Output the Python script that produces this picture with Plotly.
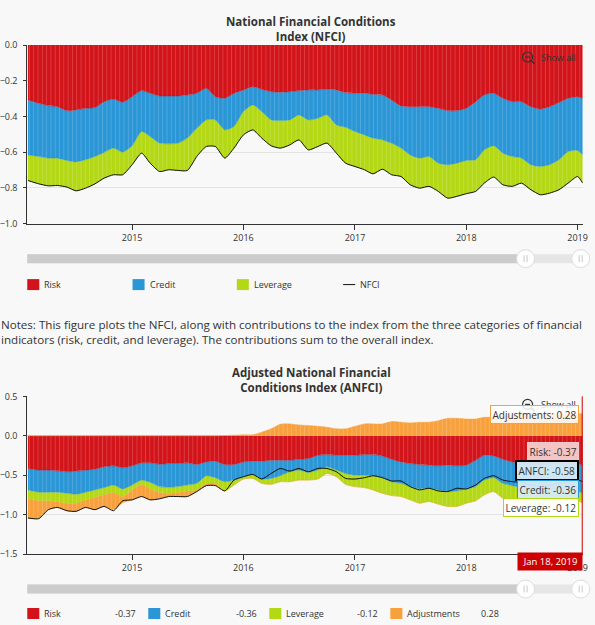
import plotly.graph_objects as go
import pandas as pd

# monthly readings, first point 2014-01-24, last point 2019-01-18
dates = (["2014-01-24"]
         + [d.strftime("%Y-%m-%d") for d in pd.date_range("2014-03-01", "2019-01-01", freq="MS")]
         + ["2019-01-18"])

year_ticks = ["2015-01-01", "2016-01-01", "2017-01-01", "2018-01-01", "2019-01-01"]
year_labels = ["2015", "2016", "2017", "2018", "2019"]

# NFCI contributions
nfci_risk = [-0.307, -0.326, -0.339, -0.345, -0.367, -0.363, -0.354, -0.350, -0.317, -0.302,
             -0.320, -0.289, -0.255, -0.270, -0.285, -0.285, -0.285, -0.279, -0.270, -0.242,
             -0.289, -0.298, -0.270, -0.251, -0.233, -0.248, -0.261, -0.264, -0.261, -0.255,
             -0.251, -0.251, -0.248, -0.251, -0.266, -0.270, -0.270, -0.276, -0.279, -0.307,
             -0.341, -0.345, -0.345, -0.345, -0.354, -0.367, -0.367, -0.354, -0.317, -0.279,
             -0.270, -0.298, -0.317, -0.317, -0.345, -0.358, -0.345, -0.322, -0.298, -0.289, -0.298]
nfci_credit = [-0.308, -0.298, -0.294, -0.288, -0.279, -0.291, -0.288, -0.274, -0.284, -0.275,
               -0.280, -0.275, -0.229, -0.242, -0.264, -0.268, -0.264, -0.242, -0.196, -0.177,
               -0.130, -0.177, -0.186, -0.121, -0.102, -0.124, -0.158, -0.159, -0.158, -0.136,
               -0.168, -0.159, -0.143, -0.196, -0.194, -0.214, -0.233, -0.245, -0.252, -0.242,
               -0.236, -0.270, -0.288, -0.279, -0.307, -0.303, -0.294, -0.292, -0.325, -0.308,
               -0.294, -0.307, -0.307, -0.316, -0.325, -0.322, -0.325, -0.320, -0.298, -0.301, -0.317]
nfci_leverage = [-0.143, -0.153, -0.155, -0.153, -0.149, -0.162, -0.159, -0.153, -0.144, -0.149,
                 -0.126, -0.106, -0.121, -0.149, -0.159, -0.145, -0.153, -0.181, -0.158, -0.149,
                 -0.149, -0.158, -0.121, -0.131, -0.140, -0.149, -0.145, -0.154, -0.140, -0.140,
                 -0.168, -0.158, -0.158, -0.158, -0.201, -0.196, -0.195, -0.200, -0.164, -0.177,
                 -0.159, -0.167, -0.168, -0.167, -0.158, -0.187, -0.186, -0.186, -0.177, -0.186,
                 -0.175, -0.177, -0.167, -0.140, -0.140, -0.158, -0.159, -0.168, -0.177, -0.146, -0.158]
nfci_index = [-0.758, -0.777, -0.788, -0.786, -0.795, -0.816, -0.801, -0.777, -0.745, -0.726,
              -0.726, -0.670, -0.605, -0.661, -0.708, -0.698, -0.702, -0.702, -0.624, -0.568,
              -0.568, -0.633, -0.577, -0.503, -0.475, -0.521, -0.564, -0.577, -0.559, -0.531,
              -0.587, -0.568, -0.549, -0.605, -0.661, -0.680, -0.698, -0.721, -0.695, -0.726,
              -0.736, -0.782, -0.801, -0.791, -0.819, -0.857, -0.847, -0.832, -0.819, -0.773,
              -0.739, -0.782, -0.791, -0.773, -0.810, -0.838, -0.829, -0.810, -0.773, -0.736, -0.773]

# ANFCI contributions
anfci_risk = [-0.414, -0.435, -0.435, -0.444, -0.456, -0.448, -0.435, -0.423, -0.393, -0.381,
              -0.406, -0.381, -0.343, -0.343, -0.360, -0.351, -0.351, -0.343, -0.364, -0.331,
              -0.322, -0.364, -0.364, -0.331, -0.322, -0.322, -0.310, -0.310, -0.310, -0.297,
              -0.289, -0.247, -0.238, -0.247, -0.247, -0.247, -0.238, -0.238, -0.255, -0.297,
              -0.331, -0.351, -0.364, -0.372, -0.381, -0.372, -0.381, -0.372, -0.310, -0.247,
              -0.255, -0.297, -0.331, -0.351, -0.364, -0.372, -0.364, -0.351, -0.351, -0.360, -0.37]
anfci_credit = [-0.272, -0.280, -0.280, -0.271, -0.272, -0.293, -0.280, -0.263, -0.264, -0.242,
                -0.268, -0.242, -0.218, -0.247, -0.284, -0.302, -0.293, -0.280, -0.239, -0.175,
                -0.209, -0.218, -0.197, -0.188, -0.168, -0.226, -0.230, -0.196, -0.146, -0.138,
                -0.175, -0.188, -0.155, -0.188, -0.230, -0.251, -0.260, -0.268, -0.276, -0.285,
                -0.272, -0.293, -0.310, -0.293, -0.305, -0.335, -0.318, -0.302, -0.334, -0.314,
                -0.276, -0.306, -0.301, -0.306, -0.322, -0.335, -0.335, -0.323, -0.323, -0.339, -0.36]
anfci_leverage = [-0.105, -0.109, -0.109, -0.118, -0.126, -0.113, -0.097, -0.092, -0.092, -0.092,
                  -0.096, -0.063, -0.054, -0.084, -0.071, -0.075, -0.071, -0.076, -0.083, -0.097,
                  -0.072, -0.117, -0.062, -0.029, -0.050, -0.055, -0.075, -0.076, -0.126, -0.126,
                  -0.097, -0.113, -0.084, -0.084, -0.138, -0.146, -0.159, -0.180, -0.197, -0.175,
                  -0.167, -0.168, -0.180, -0.168, -0.180, -0.188, -0.196, -0.180, -0.180, -0.188,
                  -0.176, -0.188, -0.201, -0.197, -0.197, -0.201, -0.196, -0.192, -0.159, -0.125, -0.12]
anfci_adjust = [-0.251, -0.226, -0.113, -0.075, -0.096, -0.104, -0.096, -0.159, -0.146, -0.220,
                -0.080, -0.126, -0.155, -0.138, -0.084, -0.042, -0.055, -0.071, -0.021, -0.029,
                -0.029, 0.004, 0.008, 0.013, 0.013, 0.046, 0.088, 0.146, 0.151, 0.138,
                0.130, 0.121, 0.109, 0.088, 0.088, 0.121, 0.151, 0.151, 0.151, 0.180,
                0.172, 0.163, 0.172, 0.172, 0.192, 0.222, 0.222, 0.213, 0.213, 0.234,
                0.234, 0.255, 0.264, 0.272, 0.276, 0.276, 0.28, 0.28, 0.28, 0.28, 0.28]
anfci_index = [-1.042, -1.050, -0.937, -0.908, -0.950, -0.958, -0.908, -0.937, -0.895, -0.950,
               -0.824, -0.812, -0.770, -0.812, -0.799, -0.770, -0.770, -0.770, -0.707, -0.632,
               -0.632, -0.699, -0.561, -0.519, -0.490, -0.548, -0.477, -0.414, -0.448, -0.414,
               -0.456, -0.414, -0.414, -0.456, -0.540, -0.548, -0.531, -0.506, -0.531, -0.573,
               -0.573, -0.644, -0.686, -0.665, -0.699, -0.707, -0.665, -0.674, -0.623, -0.540,
               -0.506, -0.561, -0.582, -0.590, -0.623, -0.644, -0.632, -0.603, -0.582, -0.561, -0.58]

RED = "#d2141a"
BLUE = "#2a96d6"
GREEN = "#b3d814"
ORANGE = "#f8a03c"
# lighter weekly column edges seen on the areas
STRIPE = {RED: "#dc3e43", BLUE: "#4ea8df", GREEN: "#c2e040", ORANGE: "#f9b264"}
BG = "#f8f8f8"
TXT = "#333333"
FONT = "Open Sans"

W, H = 595, 625


# pixel positions measured on the reference -> paper coords
# (small correction: the screenshot comes out slightly shrunk toward the centre)
def X(px):
    return ((px - 0.8) / 0.989) / W


def Y(py):
    return 1 - ((py - 4.9) / 0.981) / H


fig = go.Figure()


def area(x, y, color, group, xa, ya):
    fig.add_trace(go.Scatter(
        x=x, y=y, mode="lines", stackgroup=group, xaxis=xa, yaxis=ya,
        line=dict(color=color, width=0.5, shape="spline", smoothing=0.6),
        fillcolor=color,
        fillpattern=dict(shape="|", size=4.3, solidity=0.22, fgcolor=STRIPE[color],
                         bgcolor=color, fillmode="replace"),
        showlegend=False, hoverinfo="skip"))


# top chart
area(dates, nfci_risk, RED, "nfci", "x", "y")
area(dates, nfci_credit, BLUE, "nfci", "x", "y")
area(dates, nfci_leverage, GREEN, "nfci", "x", "y")
fig.add_trace(go.Scatter(x=dates, y=nfci_index, mode="lines", xaxis="x", yaxis="y",
                         line=dict(color="#111111", width=1, shape="spline", smoothing=0.6),
                         showlegend=False, hoverinfo="skip"))

# bottom chart, positive adjustments stacked above zero
adj_neg = [min(v, 0) for v in anfci_adjust]
adj_pos = [max(v, 0) for v in anfci_adjust]
area(dates, anfci_risk, RED, "neg", "x2", "y2")
area(dates, anfci_credit, BLUE, "neg", "x2", "y2")
area(dates, anfci_leverage, GREEN, "neg", "x2", "y2")
area(dates, adj_neg, ORANGE, "neg", "x2", "y2")
area(dates, adj_pos, ORANGE, "pos", "x2", "y2")
fig.add_trace(go.Scatter(x=dates, y=anfci_index, mode="lines", xaxis="x2", yaxis="y2",
                         line=dict(color="#111111", width=1, shape="spline", smoothing=0.6),
                         showlegend=False, hoverinfo="skip"))

xrange = ["2014-01-22", "2019-01-18"]
xcommon = dict(range=xrange, tickvals=year_ticks, ticktext=year_labels, showgrid=False,
               showline=True, linecolor=TXT, linewidth=1, ticks="outside", ticklen=5,
               tickcolor=TXT, tickfont=dict(family=FONT, size=9, color=TXT), fixedrange=True)
ycommon = dict(showline=True, linecolor=TXT, linewidth=1, ticks="outside", ticklen=3,
               tickcolor=TXT, showgrid=True, gridcolor="#e4e4e4", zeroline=False,
               ticklabelstandoff=4,
               tickfont=dict(family=FONT, size=9, color=TXT), tickformat=".1f", fixedrange=True)

fig.update_layout(
    width=W, height=H, margin=dict(l=0, r=0, t=0, b=0),
    paper_bgcolor=BG, plot_bgcolor=BG, showlegend=False,
    xaxis=dict(domain=[X(28), X(582)], anchor="y", **xcommon),
    yaxis=dict(domain=[Y(222), Y(43)], range=[-1, 0], dtick=0.2, anchor="x", **ycommon),
    xaxis2=dict(domain=[X(28), X(582)], anchor="y2", **xcommon),
    yaxis2=dict(domain=[Y(553), Y(395)], range=[-1.5, 0.5], dtick=0.5, anchor="x2", **ycommon),
)

shapes = []
ann = []


def text(x, y, s, size=9, color=TXT, anchor="left", bold=False, family=FONT):
    ann.append(dict(x=X(x), y=Y(y), xref="paper", yref="paper", text=f"<b>{s}</b>" if bold else s,
                    showarrow=False, xanchor=anchor, yanchor="middle", align=anchor if anchor != "center" else "center",
                    font=dict(family=family, size=size, color=color)))


# titles
text(311, 27, "National Financial Conditions<br>Index (NFCI)", size=11.5, anchor="center", bold=True)
text(311, 379, "Adjusted National Financial<br>Conditions Index (ANFCI)", size=11.5, anchor="center", bold=True)


# show all buttons
def show_all(cy):
    shapes.append(dict(type="circle", xref="paper", yref="paper", x0=X(522), x1=X(532),
                       y0=Y(cy - 5), y1=Y(cy + 5), line=dict(color=TXT, width=1.2)))
    shapes.append(dict(type="line", xref="paper", yref="paper", x0=X(524.5), x1=X(529.5),
                       y0=Y(cy), y1=Y(cy), line=dict(color=TXT, width=1.2)))
    shapes.append(dict(type="line", xref="paper", yref="paper", x0=X(530.5), x1=X(534),
                       y0=Y(cy + 3.5), y1=Y(cy + 7), line=dict(color=TXT, width=1.5)))
    text(538, cy + 0.5, "Show all", size=9)


show_all(55)
show_all(403)


# navigator sliders
def slider(cy):
    shapes.append(dict(type="rect", xref="paper", yref="paper", x0=X(28), x1=X(582),
                       y0=Y(cy + 4.5), y1=Y(cy - 4.5), fillcolor="#e6e6e6", line=dict(width=0)))
    shapes.append(dict(type="rect", xref="paper", yref="paper", x0=X(28), x1=X(525),
                       y0=Y(cy + 4.5), y1=Y(cy - 4.5), fillcolor="#cccccc", line=dict(width=0)))
    for hx in (525, 580):
        shapes.append(dict(type="circle", xref="paper", yref="paper", x0=X(hx - 9), x1=X(hx + 9),
                           y0=Y(cy + 9), y1=Y(cy - 9), fillcolor="#ffffff",
                           line=dict(color="#dcdcdc", width=1)))
        for gx in (hx - 1.5, hx + 1.5):
            shapes.append(dict(type="line", xref="paper", yref="paper", x0=X(gx), x1=X(gx),
                               y0=Y(cy - 3.5), y1=Y(cy + 3.5), line=dict(color="#c8c8c8", width=1)))


slider(257)
slider(588)


# custom legends
def swatch(x, cy, color):
    shapes.append(dict(type="rect", xref="paper", yref="paper", x0=X(x), x1=X(x + 12),
                       y0=Y(cy + 5.5), y1=Y(cy - 5.5), fillcolor=color, line=dict(width=0)))


for lx, name, color in [(28, "Risk", RED), (133, "Credit", BLUE), (237, "Leverage", GREEN)]:
    swatch(lx, 283, color)
    text(lx + 15, 283, name)
shapes.append(dict(type="line", xref="paper", yref="paper", x0=X(343), x1=X(355),
                   y0=Y(283), y1=Y(283), line=dict(color="#111111", width=1)))
text(358, 283, "NFCI")

legend2 = [("Risk", RED, anfci_risk[-1]), ("Credit", BLUE, anfci_credit[-1]),
           ("Leverage", GREEN, anfci_leverage[-1]), ("Adjustments", ORANGE, anfci_adjust[-1])]
for i, (name, color, val) in enumerate(legend2):
    lx = 28 + i * 120.7
    swatch(lx, 612.5, color)
    text(lx + 15, 612.5, name)
    text(lx + 110, 612.5, f"{val:.2f}", anchor="right")

# notes
text(0, 330.5, "Notes: This figure plots the NFCI, along with contributions to the index from the three categories of financial"
     "<br>indicators (risk, credit, and leverage). The contributions sum to the overall index.", size=11.6)

# crosshair and tooltips of the last point
shapes.append(dict(type="line", xref="paper", yref="paper", x0=X(581.5), x1=X(581.5),
                   y0=Y(395), y1=Y(553), line=dict(color="#cc0000", width=1)))


def tip(cy, s, bg, border, bw=1):
    ann.append(dict(x=X(578), y=Y(cy), xref="paper", yref="paper", text=s, showarrow=False,
                    xanchor="right", yanchor="middle", bgcolor=bg, bordercolor=border,
                    borderwidth=bw, borderpad=1.5, font=dict(family=FONT, size=10, color=TXT)))


tip(413, f"Adjustments: {anfci_adjust[-1]:.2f}", "rgba(255,255,255,0.85)", ORANGE)
tip(450.5, f"Risk: {anfci_risk[-1]:.2f}", "rgba(246,205,206,0.95)", "rgba(246,205,206,0.95)")
tip(469, f"ANFCI: {anfci_index[-1]:.2f}", "rgba(214,234,246,0.95)", "#000000", 2)
tip(488.5, f"Credit: {anfci_credit[-1]:.2f}", "rgba(214,234,246,0.95)", BLUE)
tip(506, f"Leverage: {anfci_leverage[-1]:.2f}", "rgba(255,255,255,0.95)", GREEN)

ann.append(dict(x=X(549.5), y=Y(560.5), xref="paper", yref="paper", text="Jan 18, 2019",
                showarrow=False, xanchor="center", yanchor="middle", bgcolor="#cc0000",
                borderpad=2, width=60, font=dict(family=FONT, size=9.5, color="#ffffff")))

fig.update_layout(shapes=shapes, annotations=ann)
# the page has no body margin in the reference
fig.write_html("out.html", config={"displayModeBar": False},
               post_script="document.body.style.margin='0';")
